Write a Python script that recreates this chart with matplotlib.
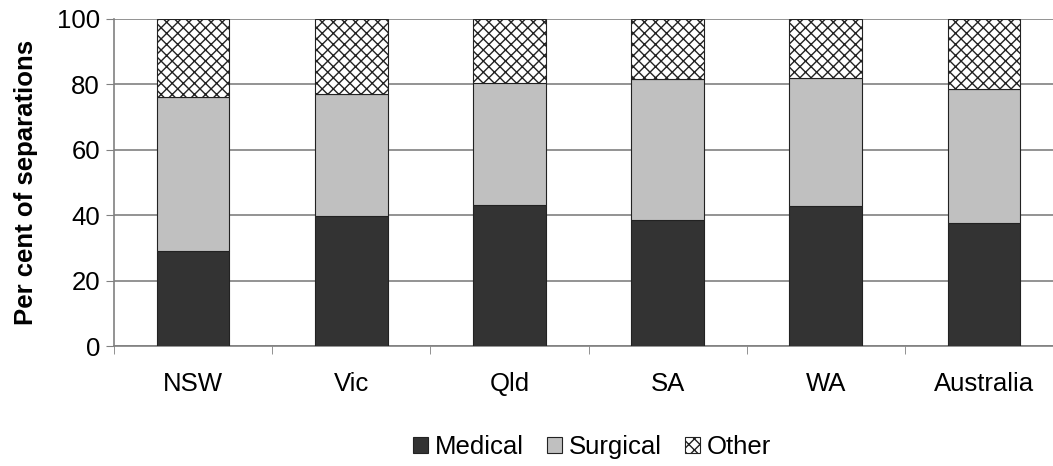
import numpy as np
import matplotlib.pyplot as plt

plt.rcParams['font.family'] = ['Liberation Sans', 'DejaVu Sans']
plt.rcParams['hatch.color'] = '#333333'
plt.rcParams['hatch.linewidth'] = 1.0

states = ["NSW", "Vic", "Qld", "SA", "WA", "Australia"]
medical = [29.0, 39.7, 43.2, 38.5, 42.8, 37.7]
surgical = [47.1, 37.3, 37.3, 43.3, 39.2, 40.8]
other = [23.9, 23.0, 19.5, 18.2, 18.0, 21.5]

fig = plt.figure(figsize=(10.53, 4.66), dpi=100)
ax = fig.add_axes([114 / 1053, 120 / 466, 949 / 1053, 327 / 466])

x = np.arange(len(states))
w = 0.46
bottom2 = np.array(medical) + np.array(surgical)
ax.bar(x, medical, w, color='#333333', edgecolor='#222222', linewidth=0.8, label='Medical', zorder=3)
ax.bar(x, surgical, w, bottom=medical, color='#c0c0c0', edgecolor='#222222', linewidth=0.8,
       label='Surgical', zorder=3)
ax.bar(x, other, w, bottom=bottom2, color='white', edgecolor='#222222', linewidth=0.8,
       hatch='xxx', label='Other', zorder=3)

ax.set_xlim(-0.5, 5.5)
ax.set_ylim(0, 100)
ax.set_yticks(range(0, 101, 20))
ax.set_xticks(x)
ax.set_xticklabels(states)
ax.set_xticks(np.arange(-0.5, 6, 1), minor=True)
ax.tick_params(axis='x', which='major', length=0, pad=19, labelsize=18.5)
ax.tick_params(axis='x', which='minor', length=6, color='#808080', direction='out')
ax.tick_params(axis='y', length=6, color='#808080', labelsize=18.5, pad=4)

ax.grid(axis='y', color='#808080', linewidth=1.2, zorder=0)
for s in ['top', 'right']:
    ax.spines[s].set_visible(False)
ax.spines['left'].set_color('#808080')
ax.spines['bottom'].set_color('#808080')
ax.spines['left'].set_linewidth(1.2)
ax.spines['bottom'].set_linewidth(1.2)

ax.set_ylabel('Per cent of separations', fontsize=18.5, fontweight='bold', labelpad=14)

fig.legend(loc='center', bbox_to_anchor=(592 / 1053, 1 - 447 / 466), ncol=3, frameon=False,
           fontsize=18.5, handlelength=0.6, handleheight=0.6, handletextpad=0.25, columnspacing=0.9)

fig.savefig('out.png', dpi=100)
